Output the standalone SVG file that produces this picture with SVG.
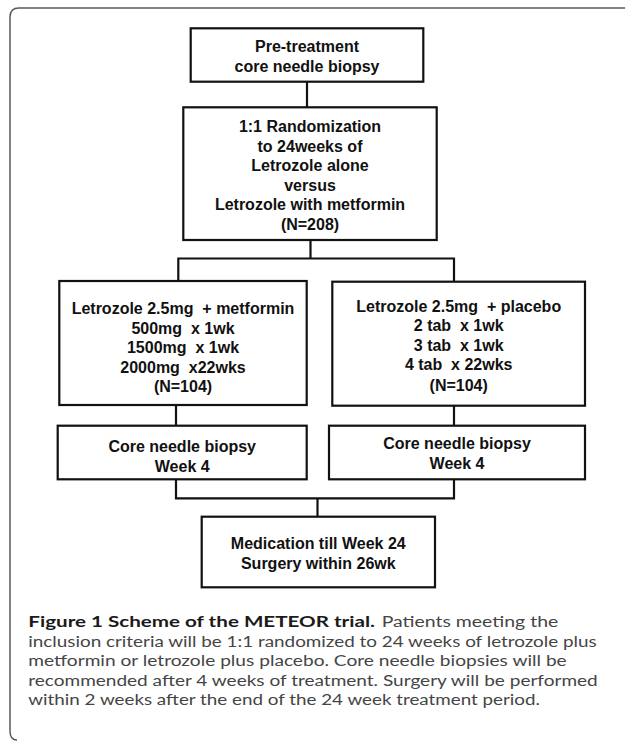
<svg xmlns="http://www.w3.org/2000/svg" width="625" height="741" viewBox="0 0 625 741">
  <style>
    .box { fill: #ffffff; stroke: #111111; stroke-width: 2.2; }
    .lbl { font-family: "Liberation Sans", Arial, sans-serif; font-weight: bold; font-size: 16px; fill: #111111; text-anchor: middle; white-space: pre; }
    .conn { fill: none; stroke: #111111; stroke-width: 2.2; }
    .frame { fill: none; stroke: #5a5a5a; stroke-width: 1.5; }
    .cap { font-family: Lato, "Open Sans", sans-serif; font-size: 15.5px; fill: #454545; }
    .capb { font-weight: bold; fill: #1a1a1a; }
  </style>
  <rect width="625" height="741" fill="#ffffff"/>
  <path class="frame" d="M 625 8 H 19 Q 10 8 10 17 V 731 Q 10 740 17 740"/>

  <g id="connectors">
    <path class="conn" d="M 307 81.7 V 107.3"/>
    <path class="conn" d="M 310.5 240 V 258.5 M 178.3 281 V 258.5 H 454 V 281.7"/>
    <path class="conn" d="M 176 405 V 425.7"/>
    <path class="conn" d="M 454 405.7 V 425.7"/>
    <path class="conn" d="M 176 479.3 V 498.3 H 454 V 479.3 M 317.5 498.3 V 516.7"/>
  </g>

  <g id="pretreatment">
    <rect class="box" x="190.7" y="28.3" width="232.6" height="53.4"/>
    <text class="lbl" x="307" y="52">Pre-treatment</text>
    <text class="lbl" x="307" y="72">core needle biopsy</text>
  </g>

  <g id="randomization">
    <rect class="box" x="183.3" y="107.3" width="253.4" height="132.7"/>
    <text class="lbl" x="310" y="132">1:1 Randomization</text>
    <text class="lbl" x="310" y="151.6">to 24weeks of</text>
    <text class="lbl" x="310" y="171.2">Letrozole alone</text>
    <text class="lbl" x="310" y="190.8">versus</text>
    <text class="lbl" x="310" y="210.4">Letrozole with metformin</text>
    <text class="lbl" x="310" y="230">(N=208)</text>
  </g>

  <g id="metformin-arm">
    <rect class="box" x="59.3" y="281" width="247.4" height="124"/>
    <text class="lbl" x="183" y="314">Letrozole 2.5mg  + metformin</text>
    <text class="lbl" x="183" y="333.6">500mg  x 1wk</text>
    <text class="lbl" x="183" y="353.2">1500mg  x 1wk</text>
    <text class="lbl" x="183" y="372.8">2000mg  x22wks</text>
    <text class="lbl" x="183" y="392.4">(N=104)</text>
  </g>

  <g id="placebo-arm">
    <rect class="box" x="332.3" y="281.7" width="252.7" height="124"/>
    <text class="lbl" x="458.7" y="311.5">Letrozole 2.5mg  + placebo</text>
    <text class="lbl" x="458.7" y="331.1">2 tab  x 1wk</text>
    <text class="lbl" x="458.7" y="350.7">3 tab  x 1wk</text>
    <text class="lbl" x="458.7" y="370.3">4 tab  x 22wks</text>
    <text class="lbl" x="458.7" y="390.5">(N=104)</text>
  </g>

  <g id="biopsy-left">
    <rect class="box" x="57.7" y="425.7" width="249" height="53.6"/>
    <text class="lbl" x="182.2" y="452">Core needle biopsy</text>
    <text class="lbl" x="182.2" y="471.5">Week 4</text>
  </g>

  <g id="biopsy-right">
    <rect class="box" x="329" y="425.7" width="256" height="53.6"/>
    <text class="lbl" x="457" y="449">Core needle biopsy</text>
    <text class="lbl" x="457" y="468.5">Week 4</text>
  </g>

  <g id="surgery">
    <rect class="box" x="201.7" y="516.7" width="233.3" height="70.6"/>
    <text class="lbl" x="318.3" y="549">Medication till Week 24</text>
    <text class="lbl" x="318.3" y="568.5">Surgery within 26wk</text>
  </g>

  <g id="caption">
    <text class="cap" y="627"><tspan class="capb" x="28.3" textLength="346.7" lengthAdjust="spacingAndGlyphs">Figure 1 Scheme of the METEOR trial.</tspan><tspan x="381.7" textLength="176.6" lengthAdjust="spacingAndGlyphs">Patients meeting the</tspan></text>
    <text class="cap" x="28.3" y="646.6" textLength="568.4" lengthAdjust="spacingAndGlyphs">inclusion criteria will be 1:1 randomized to 24 weeks of letrozole plus</text>
    <text class="cap" x="28.3" y="666.2" textLength="538.4" lengthAdjust="spacingAndGlyphs">metformin or letrozole plus placebo. Core needle biopsies will be</text>
    <text class="cap" x="28.3" y="685.8" textLength="569.4" lengthAdjust="spacingAndGlyphs">recommended after 4 weeks of treatment. Surgery will be performed</text>
    <text class="cap" x="28.3" y="705.4" textLength="511.7" lengthAdjust="spacingAndGlyphs">within 2 weeks after the end of the 24 week treatment period.</text>
  </g>
</svg>
